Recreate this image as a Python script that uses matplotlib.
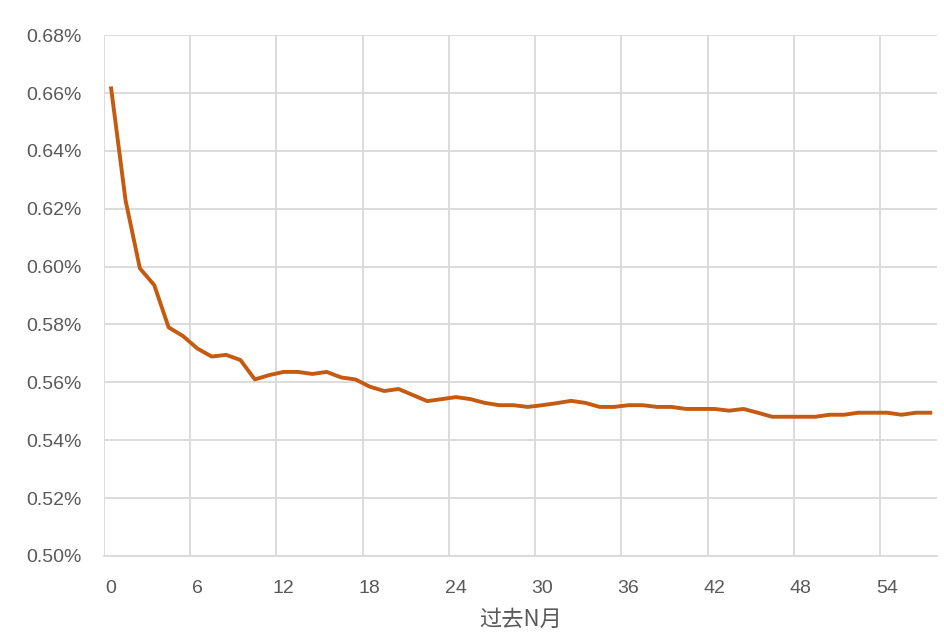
import numpy as np
import matplotlib.pyplot as plt

# rate (%) for the past N months, N = 0..57
months = list(range(58))
rate = [0.6616, 0.6230, 0.5994, 0.5936, 0.5790, 0.5760, 0.5717, 0.5689, 0.5695, 0.5677,
        0.5610, 0.5625, 0.5636, 0.5636, 0.5629, 0.5636, 0.5617, 0.5610, 0.5585, 0.5570,
        0.5577, 0.5556, 0.5535, 0.5542, 0.5549, 0.5542, 0.5529, 0.5521, 0.5521, 0.5515,
        0.5521, 0.5528, 0.5536, 0.5529, 0.5515, 0.5515, 0.5521, 0.5521, 0.5515, 0.5515,
        0.5508, 0.5508, 0.5508, 0.5502, 0.5508, 0.5495, 0.5481, 0.5481, 0.5481, 0.5481,
        0.5488, 0.5488, 0.5495, 0.5495, 0.5495, 0.5488, 0.5495, 0.5495]
xtick_vals = list(range(0, 55, 6))
ytick_vals = [0.50, 0.52, 0.54, 0.56, 0.58, 0.60, 0.62, 0.64, 0.66, 0.68]

plt.rcParams['font.family'] = ['Liberation Sans', 'Noto Sans CJK SC']

fig = plt.figure(figsize=(9.45, 6.39), dpi=100)
ax = fig.add_axes([0.110, 0.130, 0.882, 0.815])

grid_c = '#D9D9D9'
text_c = '#595959'

ax.plot(months, rate, color='#C55A11', linewidth=2.8, solid_joinstyle='round', zorder=3)

ax.set_xlim(-0.5, 57.5)
ax.set_ylim(0.50, 0.68)

ax.set_xticks(xtick_vals)
ax.set_xticklabels([str(v) for v in xtick_vals])
ax.set_xticks(np.arange(-0.5, 58, 6), minor=True)
ax.set_yticks(ytick_vals)
ax.set_yticklabels(['{:.2f}%'.format(v) for v in ytick_vals])

ax.grid(True, which='minor', axis='x', color=grid_c, linewidth=1.3)
ax.grid(True, which='major', axis='y', color=grid_c, linewidth=1.3)
ax.tick_params(axis='both', which='both', length=0, labelsize=14, labelcolor=text_c)
ax.tick_params(axis='x', pad=17)
ax.tick_params(axis='y', pad=16)

for s in ['top', 'right', 'left']:
    ax.spines[s].set_visible(False)
ax.spines['bottom'].set_color(grid_c)
ax.spines['bottom'].set_linewidth(1.3)

ax.set_xlabel('过去N月', fontsize=16, color=text_c, family=['Noto Sans CJK SC'], labelpad=8)

fig.savefig('out.png', dpi=100)
